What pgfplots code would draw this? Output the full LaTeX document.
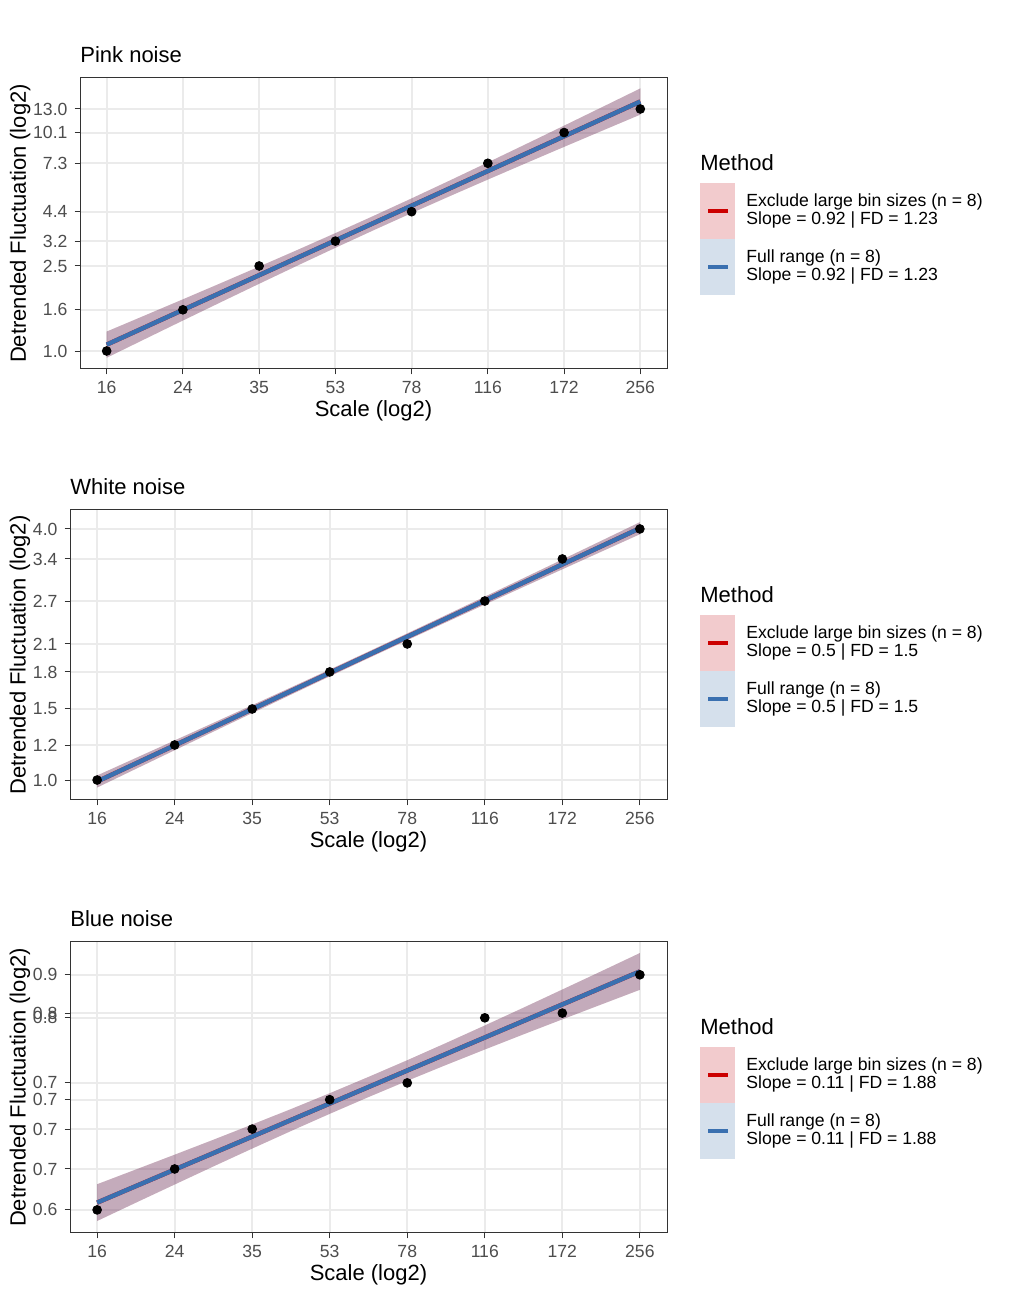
\documentclass[border=0pt]{standalone}
\usepackage{fontspec}
\setmainfont{Liberation Sans}
\usepackage{pgfplots}
\usepackage{pgfplotstable}
\pgfplotsset{compat=1.18}
\usepgfplotslibrary{fillbetween}

\definecolor{fitblue}{HTML}{3A70B0}
\definecolor{fitred}{HTML}{CC0000}
\definecolor{gridgray}{HTML}{EBEBEB}
\definecolor{ticktext}{HTML}{4D4D4D}
\definecolor{border}{HTML}{333333}
\definecolor{keyred}{HTML}{F2CBCD}
\definecolor{keyblue}{HTML}{D5E0EC}

% ribbons: x = log2(scale), lo / hi of the confidence band
\pgfplotstableread{
x      lo       hi
4.0000 -0.103   0.297
4.2857  0.182   0.543
4.5714  0.466   0.790
4.8571  0.748   1.039
5.1429  1.028   1.290
5.4286  1.305   1.544
5.7143  1.578   1.802
6.0000  1.846   2.065
6.2857  2.109   2.333
6.5714  2.367   2.606
6.8571  2.621   2.883
7.1429  2.872   3.163
7.4286  3.121   3.445
7.7143  3.368   3.729
8.0000  3.614   4.014
}\ribpink
\pgfplotstableread{
x      lo       hi
4.0000 -0.0597  0.0363
4.2857  0.0891  0.1757
4.5714  0.2376  0.3154
4.8571  0.3857  0.4555
5.1429  0.5333  0.5961
5.4286  0.6801  0.7375
5.7143  0.8260  0.8798
6.0000  0.9707  1.0233
6.2857  1.1142  1.1680
6.5714  1.2565  1.3139
6.8571  1.3979  1.4607
7.1429  1.5385  1.6083
7.4286  1.6786  1.7564
7.7143  1.8183  1.9049
8.0000  1.9577  2.0537
}\ribwhite
\pgfplotstableread{
x      lo       hi
4.0000 -0.7581 -0.6881
4.2857 -0.7232 -0.6600
4.5714 -0.6886 -0.6318
4.8571 -0.6541 -0.6033
5.1429 -0.6201 -0.5743
5.4286 -0.5867 -0.5449
5.7143 -0.5539 -0.5147
6.0000 -0.5220 -0.4836
6.2857 -0.4910 -0.4518
6.5714 -0.4608 -0.4190
6.8571 -0.4314 -0.3856
7.1429 -0.4024 -0.3516
7.4286 -0.3739 -0.3171
7.7143 -0.3457 -0.2825
8.0000 -0.3176 -0.2476
}\ribblue

\pgfplotsset{dfa/.style={
  scale only axis, height=145.5pt,
  xmin=3.8, xmax=8.2,
  xtick={4,4.5714,5.1429,5.7143,6.2857,6.8571,7.4286,8},
  xticklabels={16,24,35,53,78,116,172,256},
  xtick pos=bottom, ytick pos=left,
  xmajorgrids, ymajorgrids,
  major grid style={gridgray, line width=1pt},
  axis line style={border, line width=0.5pt},
  tick align=outside, major tick length=2.75pt,
  tick style={border, line width=0.5pt},
  /pgf/number format/assume math mode=true,
  ticklabel style={font=\fontsize{8.8}{10}\selectfont, text=ticktext},
  xlabel={Scale (log2)}, ylabel={Detrended Fluctuation (log2)},
  label style={font=\fontsize{11}{13}\selectfont},
  xlabel style={at={(axis description cs:0.5,0)}, anchor=center, yshift=-21pt},
  title style={at={(axis description cs:0,1)}, anchor=base west, inner sep=0pt,
    yshift=1.5pt, font=\fontsize{11}{13}\selectfont},
  anchor=south west,
}}

\newcommand{\methodlegend}[3]{%
  \begin{scope}[yshift=#1]
    \node[anchor=west, inner sep=0pt, font=\fontsize{11}{13}\selectfont] at (350pt,566.5pt) {Method};
    \fill[keyred] (350pt,556.5pt) rectangle (367.5pt,528.5pt);
    \fill[keyblue] (350pt,528.5pt) rectangle (367.5pt,500.5pt);
    \draw[fitred, line width=2.2pt] (354pt,542.5pt) -- (364pt,542.5pt);
    \draw[fitblue, line width=2.2pt] (354pt,514.5pt) -- (364pt,514.5pt);
    \node[anchor=west, inner sep=0pt, align=left, font=\fontsize{8.8}{9}\selectfont]
      at (373pt,542.5pt) {Exclude large bin sizes (n = 8)\\Slope = #2 | FD = #3};
    \node[anchor=west, inner sep=0pt, align=left, font=\fontsize{8.8}{9}\selectfont]
      at (373pt,514.5pt) {Full range (n = 8)\\Slope = #2 | FD = #3};
  \end{scope}}

\begin{document}
\begin{tikzpicture}

% Pink noise
\begin{axis}[dfa, at={(40pt,463.5pt)}, width=293.5pt,
  title={Pink noise},
  ymin=-0.275, ymax=4.174,
  ytick={0,0.63,1.30,1.68,2.13,2.87,3.34,3.70},
  yticklabels={1.0,1.6,2.5,3.2,4.4,7.3,10.1,13.0},
  ylabel style={at={(axis description cs:-0.1020,0.5)}, anchor=center}]
  \addplot[only marks, mark=*, mark size=2.2pt, black] coordinates {
    (4,0) (4.5714,0.63) (5.1429,1.30) (5.7143,1.68)
    (6.2857,2.13) (6.8571,2.87) (7.4286,3.34) (8,3.70)};
  \addplot[name path=hi, draw=none] table[x=x, y=hi] {\ribpink};
  \addplot[name path=lo, draw=none] table[x=x, y=lo] {\ribpink};
  \addplot[fitred, fill opacity=0.25, draw=none] fill between[of=hi and lo];
  \addplot[fitblue, fill opacity=0.25, draw=none] fill between[of=hi and lo];
  \addplot[fitred, line width=2.2pt] coordinates {(4,0.097) (8,3.814)};
  \addplot[fitblue, line width=2.2pt] coordinates {(4,0.097) (8,3.814)};
\end{axis}

% White noise
\begin{axis}[dfa, at={(35pt,248pt)}, width=298.5pt, height=145pt,
  title={White noise},
  ymin=-0.159, ymax=2.151,
  ytick={0,0.279,0.566,0.861,1.084,1.426,1.761,2.0},
  yticklabels={1.0,1.2,1.5,1.8,2.1,2.7,3.4,4.0},
  ylabel style={at={(axis description cs:-0.0838,0.5)}, anchor=center}]
  \addplot[only marks, mark=*, mark size=2.2pt, black] coordinates {
    (4,0) (4.5714,0.279) (5.1429,0.566) (5.7143,0.861)
    (6.2857,1.084) (6.8571,1.426) (7.4286,1.761) (8,2.0)};
  \addplot[name path=hi, draw=none] table[x=x, y=hi] {\ribwhite};
  \addplot[name path=lo, draw=none] table[x=x, y=lo] {\ribwhite};
  \addplot[fitred, fill opacity=0.25, draw=none] fill between[of=hi and lo];
  \addplot[fitblue, fill opacity=0.25, draw=none] fill between[of=hi and lo];
  \addplot[fitred, line width=2.2pt] coordinates {(4,-0.0117) (8,2.0057)};
  \addplot[fitblue, line width=2.2pt] coordinates {(4,-0.0117) (8,2.0057)};
\end{axis}

% Blue noise
\begin{axis}[dfa, at={(35pt,31.5pt)}, width=298.5pt,
  title={Blue noise},
  ymin=-0.781, ymax=-0.2265,
  ytick={-0.737,-0.659,-0.583,-0.527,-0.495,-0.371,-0.362,-0.289},
  yticklabels={0.6,0.7,0.7,0.7,0.7,0.8,0.8,0.9},
  ylabel style={at={(axis description cs:-0.0838,0.5)}, anchor=center}]
  \addplot[only marks, mark=*, mark size=2.2pt, black] coordinates {
    (4,-0.737) (4.5714,-0.659) (5.1429,-0.583) (5.7143,-0.527)
    (6.2857,-0.495) (6.8571,-0.371) (7.4286,-0.362) (8,-0.289)};
  \addplot[name path=hi, draw=none] table[x=x, y=hi] {\ribblue};
  \addplot[name path=lo, draw=none] table[x=x, y=lo] {\ribblue};
  \addplot[fitred, fill opacity=0.25, draw=none] fill between[of=hi and lo];
  \addplot[fitblue, fill opacity=0.25, draw=none] fill between[of=hi and lo];
  \addplot[fitred, line width=2.2pt] coordinates {(4,-0.7231) (8,-0.2826)};
  \addplot[fitblue, line width=2.2pt] coordinates {(4,-0.7231) (8,-0.2826)};
\end{axis}

\methodlegend{0pt}{0.92}{1.23}
\methodlegend{-216pt}{0.5}{1.5}
\methodlegend{-432pt}{0.11}{1.88}

\pgfresetboundingbox
\path[use as bounding box] (0,0) rectangle (504pt,648pt);
\end{tikzpicture}
\end{document}
